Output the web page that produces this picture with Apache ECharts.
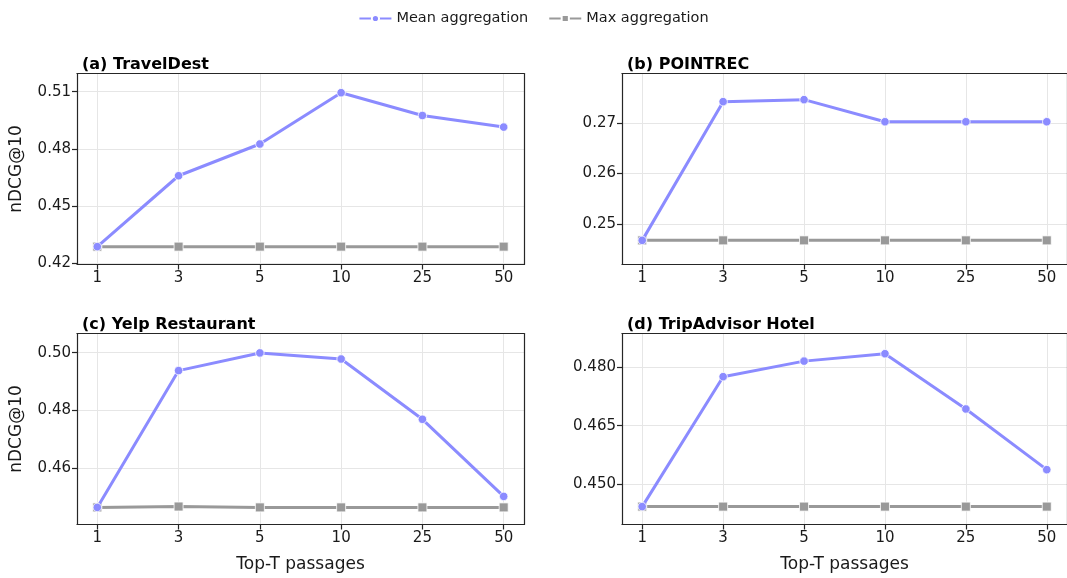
<!DOCTYPE html>
<html>
<head>
<meta charset="utf-8">
<title>nDCG@10 vs Top-T passages</title>
<script src="https://cdn.jsdelivr.net/npm/echarts@6/dist/echarts.min.js"></script>
<style>
html,body{margin:0;padding:0;background:#fff;}
#main{width:1067px;height:578px;}
</style>
</head>
<body>
<div id="main"></div>
<script>
// x categories (Top-T passages)
var topT = ['1', '3', '5', '10', '25', '50'];

// (a) TravelDest
var travelMean = [0.4285, 0.4658, 0.4825, 0.5095, 0.4975, 0.4914];
var travelMax  = [0.4285, 0.4285, 0.4285, 0.4285, 0.4285, 0.4285];
var travelTicks = [0.42, 0.45, 0.48, 0.51];

// (b) POINTREC
var pointMean = [0.2467, 0.2743, 0.2747, 0.2703, 0.2703, 0.2703];
var pointMax  = [0.2467, 0.2467, 0.2467, 0.2467, 0.2467, 0.2467];
var pointTicks = [0.25, 0.26, 0.27];

// (c) Yelp Restaurant
var yelpMean = [0.4466, 0.4938, 0.4999, 0.4978, 0.4770, 0.4504];
var yelpMax  = [0.4466, 0.4469, 0.4466, 0.4466, 0.4466, 0.4466];
var yelpTicks = [0.46, 0.48, 0.50];

// (d) TripAdvisor Hotel
var tripMean = [0.4442, 0.4776, 0.4816, 0.4835, 0.4693, 0.4537];
var tripMax  = [0.4442, 0.4442, 0.4442, 0.4442, 0.4442, 0.4442];
var tripTicks = [0.450, 0.465, 0.480];

var panelTitles = ['(a) TravelDest', '(b) POINTREC', '(c) Yelp Restaurant', '(d) TripAdvisor Hotel'];

var FONT = 'DejaVu Sans';
var MEAN_COLOR = '#8b8bff';
var MAX_COLOR = '#999999';
var SPINE = '#262626';

// 面板位置
var panels = [
	{left: 77,  top: 73.5,  mean: travelMean, max: travelMax, ticks: travelTicks, ymin: 0.4191, ymax: 0.5196, dec: 2},
	{left: 622, top: 73.5,  mean: pointMean,  max: pointMax,  ticks: pointTicks,  ymin: 0.2419, ymax: 0.2799, dec: 2},
	{left: 77,  top: 333.5, mean: yelpMean,   max: yelpMax,   ticks: yelpTicks,   ymin: 0.4407, ymax: 0.5066, dec: 2},
	{left: 622, top: 333.5, mean: tripMean,   max: tripMax,   ticks: tripTicks,   ymin: 0.4396, ymax: 0.4887, dec: 3}
];
var PW = 447;
var PH = 191;

function toPairs(arr){
	var out = [];
	for (var i = 0; i < arr.length; i++) {
		out.push([i, arr[i]]);
	}
	return out;
}

function catIndexes(){
	var out = [];
	for (var i = 0; i < topT.length; i++) out.push(i);
	return out;
}

var grids = [], xAxes = [], yAxes = [], series = [], titles = [];

for (var p = 0; p < panels.length; p++) {
	var pn = panels[p];
	var bottomRow = p >= 2;
	var leftCol = (p % 2) === 0;
	grids.push({left: pn.left, top: pn.top, width: PW, height: PH, containLabel: false,
		show: true, borderWidth: 0, backgroundColor: '#fff'});
	titles.push({text: panelTitles[p], left: pn.left, top: pn.top - 22,
		textStyle: {fontFamily: FONT, fontSize: 16, fontWeight: 'bold', color: '#000'}});

	xAxes.push({
		type: 'value', gridIndex: p, min: -0.25, max: topT.length - 0.75,
		name: bottomRow ? 'Top-T passages' : '', nameLocation: 'middle', nameGap: 32,
		nameTextStyle: {fontFamily: FONT, fontSize: 17, color: '#1a1a1a'},
		axisLine: {show: true, onZero: false, lineStyle: {color: SPINE, width: 1.2}},
		axisTick: {show: true, length: 5, customValues: catIndexes(), lineStyle: {color: SPINE, width: 1.2}},
		axisLabel: {customValues: catIndexes(), margin: 6, fontFamily: FONT, fontSize: 15, color: '#1a1a1a',
			formatter: function(v){ return topT[Math.round(v)]; }},
		splitLine: {show: true, lineStyle: {color: '#e6e6e6', width: 1}}
	});

	yAxes.push({
		type: 'value', gridIndex: p, min: pn.ymin, max: pn.ymax,
		name: leftCol ? 'nDCG@10' : '', nameLocation: 'middle', nameGap: 52,
		nameTextStyle: {fontFamily: FONT, fontSize: 17, color: '#1a1a1a'},
		axisLine: {show: true, onZero: false, lineStyle: {color: SPINE, width: 1.2}},
		axisTick: {show: true, length: 5, customValues: pn.ticks, lineStyle: {color: SPINE, width: 1.2}},
		axisLabel: {customValues: pn.ticks, margin: 6, fontFamily: FONT, fontSize: 15, color: '#1a1a1a',
			formatter: (function(d){ return function(v){ return v.toFixed(d); }; })(pn.dec)},
		splitLine: {show: true, lineStyle: {color: '#e6e6e6', width: 1}}
	});

	// 顶部和右侧边框
	xAxes.push({type: 'value', gridIndex: p, position: 'top', min: 0, max: 1,
		axisLine: {show: true, onZero: false, lineStyle: {color: SPINE, width: 1.2}},
		axisTick: {show: false}, axisLabel: {show: false}, splitLine: {show: false}});
	yAxes.push({type: 'value', gridIndex: p, position: 'right', min: 0, max: 1,
		axisLine: {show: true, onZero: false, lineStyle: {color: SPINE, width: 1.2}},
		axisTick: {show: false}, axisLabel: {show: false}, splitLine: {show: false}});

	series.push({
		name: 'Max aggregation', type: 'line', xAxisIndex: p * 2, yAxisIndex: p * 2,
		data: toPairs(pn.max), symbol: 'rect', symbolSize: 9, z: 2,
		lineStyle: {color: MAX_COLOR, width: 3},
		itemStyle: {color: MAX_COLOR, borderColor: '#fff', borderWidth: 0.8},
		emphasis: {disabled: true}, animation: false
	});
	series.push({
		name: 'Mean aggregation', type: 'line', xAxisIndex: p * 2, yAxisIndex: p * 2,
		data: toPairs(pn.mean), symbol: 'circle', symbolSize: 8.5, z: 3,
		lineStyle: {color: MEAN_COLOR, width: 3},
		itemStyle: {color: MEAN_COLOR, borderColor: '#fff', borderWidth: 0.8},
		emphasis: {disabled: true}, animation: false
	});
}

var chart = echarts.init(document.getElementById('main'));
chart.setOption({
	backgroundColor: '#fff',
	animation: false,
	title: titles,
	legend: {
		data: ['Mean aggregation', 'Max aggregation'],
		top: 6, left: 'center', itemWidth: 32, itemHeight: 9, itemGap: 20,
		textStyle: {fontFamily: FONT, fontSize: 14.5, color: '#1a1a1a'}
	},
	grid: grids,
	xAxis: xAxes,
	yAxis: yAxes,
	series: series
});
</script>
</body>
</html>
